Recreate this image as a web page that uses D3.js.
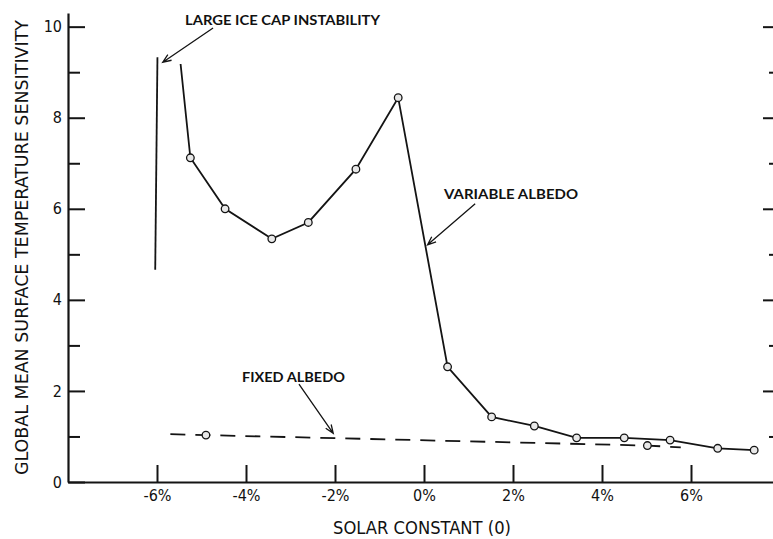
<!DOCTYPE html>
<html>
<head>
<meta charset="utf-8">
<script src="https://cdn.jsdelivr.net/npm/d3@7"></script>
<style>
  html, body { margin: 0; padding: 0; background: #fff; }
  svg { display: block; }
  .tick text { font-family: "DejaVu Sans", sans-serif; font-stretch: condensed; font-size: 16px; fill: #111; }
  .note { font-family: Lato, "Open Sans", sans-serif; font-weight: 700; font-size: 13.5px; fill: #111; }
  .axis-title { font-family: "DejaVu Sans", sans-serif; font-stretch: condensed; font-size: 18px; fill: #111; }
</style>
</head>
<body>
<svg id="chart" width="773" height="539"></svg>
<script>
// Solar constant change (%) and sensitivity, variable-albedo model
const variableX = [-5.47, -5.25, -4.47, -3.42, -2.60, -1.53, -0.58, 0.53, 1.52, 2.48, 3.43, 4.50, 5.53, 6.60, 7.42];
const variableY = [9.18, 7.12, 6.00, 5.34, 5.70, 6.87, 8.44, 2.53, 1.43, 1.23, 0.97, 0.97, 0.92, 0.74, 0.70];
// first point of the variable-albedo curve carries no marker
const variableMarked = [false, true, true, true, true, true, true, true, true, true, true, true, true, true, true];

// Fixed-albedo model (dashed)
const fixedX = [-5.70, -4.90, 5.02, 5.77];
const fixedY = [1.05, 1.03, 0.80, 0.76];
const fixedMarked = [false, true, true, false];

// Large ice cap instability: vertical jump
const instabilityX = [-5.99, -6.04];
const instabilityY = [9.33, 4.66];

const xTickValues = [-6, -4, -2, 0, 2, 4, 6];
const xTickLabels = ["-6%", "-4%", "-2%", "0%", "2%", "4%", "6%"];
const yMajorTicks = [0, 2, 4, 6, 8, 10];
const yMinorTicks = [1, 3, 5, 7, 9];

// Annotation labels: text anchor point and arrow tail/tip, in data units
const noteText = ["LARGE ICE CAP INSTABILITY", "VARIABLE ALBEDO", "FIXED ALBEDO"];
const noteAt = [[-5.37, 10.04], [0.45, 6.22], [-4.09, 2.20]];
const noteWidth = [195, 134, 103];
const arrowFrom = [[-4.74, 9.97], [1.15, 6.11], [-2.81, 2.15]];
const arrowTo = [[-5.87, 9.22], [0.08, 5.21], [-2.04, 1.07]];

const svg = d3.select("#chart");
const x = d3.scaleLinear().domain([-8, 8]).range([68, 780]);
const y = d3.scaleLinear().domain([0, 10.3]).range([482, 13]);

const ink = "#141414";

// Bottom axis: ticks point up into the plot
svg.append("g")
  .attr("transform", `translate(0,${y(0)})`)
  .call(d3.axisBottom(x).tickValues(xTickValues)
    .tickFormat((d, i) => xTickLabels[i])
    .tickSizeInner(-17).tickSizeOuter(0).tickPadding(8));

// Left axis, major ticks with labels
svg.append("g")
  .attr("transform", `translate(${x(-8)},0)`)
  .call(d3.axisLeft(y).tickValues(yMajorTicks)
    .tickFormat(d3.format("d"))
    .tickSizeInner(-17).tickSizeOuter(0).tickPadding(6));

// Left axis, minor ticks
svg.append("g")
  .attr("transform", `translate(${x(-8)},0)`)
  .call(d3.axisLeft(y).tickValues(yMinorTicks).tickFormat("")
    .tickSizeInner(-12).tickSizeOuter(0))
  .select(".domain").remove();

// Right axis ticks (no labels)
svg.append("g")
  .attr("transform", `translate(${x(8)},0)`)
  .call(d3.axisRight(y).tickValues(yMajorTicks.filter(d => d > 0)).tickFormat("")
    .tickSizeInner(-17).tickSizeOuter(0));
svg.append("g")
  .attr("transform", `translate(${x(8)},0)`)
  .call(d3.axisRight(y).tickValues(yMinorTicks).tickFormat("")
    .tickSizeInner(-11).tickSizeOuter(0))
  .select(".domain").remove();

svg.selectAll(".domain").attr("stroke", ink).attr("stroke-width", 2.2);
svg.selectAll(".tick line").attr("stroke", ink).attr("stroke-width", 2);
svg.selectAll(".tick text").attr("fill", ink);

// Axis titles
svg.append("text")
  .attr("class", "axis-title")
  .attr("transform", `translate(28,${(y(0) + y(10.3)) / 2}) rotate(-90)`)
  .attr("text-anchor", "middle")
  .attr("textLength", 455).attr("lengthAdjust", "spacingAndGlyphs")
  .text("GLOBAL MEAN SURFACE TEMPERATURE SENSITIVITY");

svg.append("text")
  .attr("class", "axis-title")
  .attr("x", 422).attr("y", 534)
  .attr("text-anchor", "middle")
  .attr("textLength", 178).attr("lengthAdjust", "spacingAndGlyphs")
  .text("SOLAR CONSTANT  (0)");

const line = d3.line().x(d => x(d[0])).y(d => y(d[1]));

// Instability jump
svg.append("path")
  .datum(d3.zip(instabilityX, instabilityY))
  .attr("d", line)
  .attr("fill", "none").attr("stroke", ink).attr("stroke-width", 1.8);

// Fixed albedo (dashed)
const fixedPts = d3.zip(fixedX, fixedY);
svg.append("path")
  .datum(fixedPts)
  .attr("d", line)
  .attr("fill", "none").attr("stroke", ink).attr("stroke-width", 1.8)
  .attr("stroke-dasharray", "15,10");

// Variable albedo (solid)
const variablePts = d3.zip(variableX, variableY);
svg.append("path")
  .datum(variablePts)
  .attr("d", line)
  .attr("fill", "none").attr("stroke", ink).attr("stroke-width", 1.8);

// Circle markers
const marks = variablePts.filter((d, i) => variableMarked[i])
  .concat(fixedPts.filter((d, i) => fixedMarked[i]));
svg.append("g").selectAll("circle")
  .data(marks)
  .join("circle")
  .attr("cx", d => x(d[0])).attr("cy", d => y(d[1]))
  .attr("r", 3.8)
  .attr("fill", "#e8e8e8").attr("stroke", ink).attr("stroke-width", 1.3);

// Annotations with open arrowheads
noteText.forEach((t, i) => {
  svg.append("text")
    .attr("class", "note")
    .attr("x", x(noteAt[i][0])).attr("y", y(noteAt[i][1]))
    .attr("textLength", noteWidth[i]).attr("lengthAdjust", "spacingAndGlyphs")
    .text(t);
  const x0 = x(arrowFrom[i][0]), y0 = y(arrowFrom[i][1]);
  const x1 = x(arrowTo[i][0]), y1 = y(arrowTo[i][1]);
  const ang = Math.atan2(y1 - y0, x1 - x0);
  const len = 9, spread = 0.38;
  const hx1 = x1 - len * Math.cos(ang - spread), hy1 = y1 - len * Math.sin(ang - spread);
  const hx2 = x1 - len * Math.cos(ang + spread), hy2 = y1 - len * Math.sin(ang + spread);
  svg.append("path")
    .attr("d", `M${x0},${y0}L${x1},${y1}M${hx1},${hy1}L${x1},${y1}L${hx2},${hy2}`)
    .attr("fill", "none").attr("stroke", ink).attr("stroke-width", 1.3);
});
</script>
</body>
</html>
